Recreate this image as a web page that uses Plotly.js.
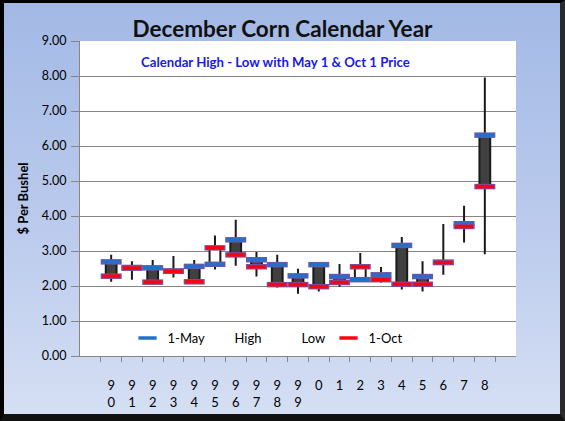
<!DOCTYPE html>
<html>
<head>
<meta charset="utf-8">
<script src="https://cdn.plot.ly/plotly-3.0.1.min.js"></script>
<style>
  html, body { margin: 0; padding: 0; }
  #wrap { position: relative; width: 565px; height: 421px; overflow: hidden;
          background: linear-gradient(to bottom, #a2b9e5 0%, #bccbed 55%, #d6e0f4 100%); }
  #chart { position: absolute; left: 0; top: 0; width: 565px; height: 421px; }
  #frame { position: absolute; left: 0; top: 0; width: 565px; height: 421px; box-sizing: border-box;
           border-left: 4px solid #000; border-top: 3px solid #000; border-right: 5px solid #2a2a2a;
           border-bottom: 7px solid #111; pointer-events: none; }
</style>
</head>
<body>
<div id="wrap">
  <div id="chart"></div>
  <div id="frame"></div>
</div>
<script>
// Categories (year labels) and tick labels
var years = ['90','91','92','93','94','95','96','97','98','99','00','01','02','03','04','05','06','07','08'];
var tickLabels = ['9<br>0','9<br>1','9<br>2','9<br>3','9<br>4','9<br>5','9<br>6','9<br>7','9<br>8','9<br>9',
                  '0','1','2','3','4','5','6','7','8'];
// Series values ($ per bushel)
var high  = [2.89,2.71,2.74,2.86,2.74,3.44,3.89,2.97,2.89,2.49,2.62,2.63,2.94,2.54,3.40,2.71,3.77,4.29,7.96];
var low   = [2.12,2.18,2.04,2.24,2.08,2.47,2.58,2.27,1.96,1.78,1.84,1.98,2.17,2.10,1.90,1.84,2.32,3.24,2.91];
var may1  = [2.69,2.53,2.52,2.43,2.56,2.62,3.32,2.75,2.61,2.29,2.61,2.27,2.18,2.32,3.16,2.27,2.68,3.78,6.31];
var oct1  = [2.28,2.51,2.11,2.42,2.12,3.09,2.89,2.55,2.04,2.04,1.98,2.10,2.55,2.18,2.05,2.05,2.67,3.70,4.84];

var font = 'Lato, "Liberation Sans", sans-serif';

var traces = [
  {
    type: 'candlestick', x: years, open: may1, high: high, low: low, close: oct1,
    showlegend: false, whiskerwidth: 0,
    increasing: { line: { color: '#1a1a1a', width: 2 }, fillcolor: '#ffffff' },
    decreasing: { line: { color: '#1a1a1a', width: 2 }, fillcolor: '#404040' },
    hoverinfo: 'x'
  },
  { type: 'scatter', mode: 'markers', x: years, y: may1, showlegend: false, hoverinfo: 'skip',
    marker: { symbol: 'line-ew', size: 15, line: { color: '#6b58a8', width: 5.5 } } },
  { type: 'scatter', mode: 'markers', name: '1-May', x: years, y: may1,
    marker: { symbol: 'line-ew', size: 13, color: '#2470c8', line: { color: '#2470c8', width: 3.5 } } },
  { type: 'scatter', mode: 'markers', name: 'High', x: [years[0]], y: [null],
    marker: { color: 'rgba(0,0,0,0)', size: 1 } },
  { type: 'scatter', mode: 'markers', name: 'Low', x: [years[0]], y: [null],
    marker: { color: 'rgba(0,0,0,0)', size: 1 } },
  { type: 'scatter', mode: 'markers', x: years, y: oct1, showlegend: false, hoverinfo: 'skip',
    marker: { symbol: 'line-ew', size: 15, line: { color: '#7a4fa0', width: 5.5 } } },
  { type: 'scatter', mode: 'markers', name: '1-Oct', x: years, y: oct1,
    marker: { symbol: 'line-ew', size: 13, color: '#ff0010', line: { color: '#ff0010', width: 3.5 } } },
  // invisible trailing legend spacer so the last label is not clipped
  { type: 'scatter', mode: 'markers', name: ' ', x: [years[0]], y: [null], showlegend: true,
    marker: { color: 'rgba(0,0,0,0)', size: 1 } }
];

var layout = {
  width: 565, height: 421,
  margin: { l: 80, r: 49, t: 41, b: 65, pad: 0 },
  paper_bgcolor: 'rgba(0,0,0,0)',
  plot_bgcolor: '#ffffff',
  font: { family: font, size: 12, color: '#000' },
  boxgap: 0.48, boxgroupgap: 0,
  title: { text: '<b>December Corn Calendar Year</b>', x: 0.5, xref: 'container', y: 0.93, yref: 'container',
           yanchor: 'middle', font: { family: font, size: 22.5, color: '#111' } },
  xaxis: {
    type: 'category', categoryorder: 'array', categoryarray: years,
    tickvals: years, ticktext: tickLabels,
    tickson: 'boundaries', ticks: 'outside', ticklen: 5, tickcolor: '#868686',
    showgrid: false, showline: true, linecolor: '#868686', linewidth: 1,
    rangeslider: { visible: false }, fixedrange: true,
    tickfont: { family: font, size: 13, color: '#000' }, ticklabelstandoff: 17
  },
  yaxis: {
    range: [0, 9], dtick: 1, tick0: 0, tickformat: '.2f',
    ticks: 'outside', ticklen: 8, tickcolor: '#868686',
    showgrid: true, gridcolor: '#868686', gridwidth: 1,
    showline: true, linecolor: '#868686', linewidth: 1, zeroline: false,
    tickfont: { family: font, size: 12.5, color: '#000' }, ticklabelstandoff: 2,
    title: { text: '<b>$ Per Bushel</b>', standoff: 10, font: { family: font, size: 13, color: '#000' } },
    fixedrange: true
  },
  legend: {
    orientation: 'h', x: 0.109, xanchor: 'left', y: 0.057, yanchor: 'middle',
    entrywidth: 22, entrywidthmode: 'pixels',
    bgcolor: 'rgba(0,0,0,0)', font: { family: font, size: 13, color: '#000' },
    traceorder: 'normal'
  },
  annotations: [
    { text: '<b>Calendar High - Low with May 1 &amp; Oct 1 Price</b>', xref: 'paper', yref: 'paper',
      x: 0.449, y: 0.934, xanchor: 'center', yanchor: 'middle', showarrow: false,
      font: { family: font, size: 13.2, color: '#1a1ae6' } }
  ]
};

Plotly.newPlot('chart', traces, layout, { staticPlot: true, displayModeBar: false });
</script>
</body>
</html>
